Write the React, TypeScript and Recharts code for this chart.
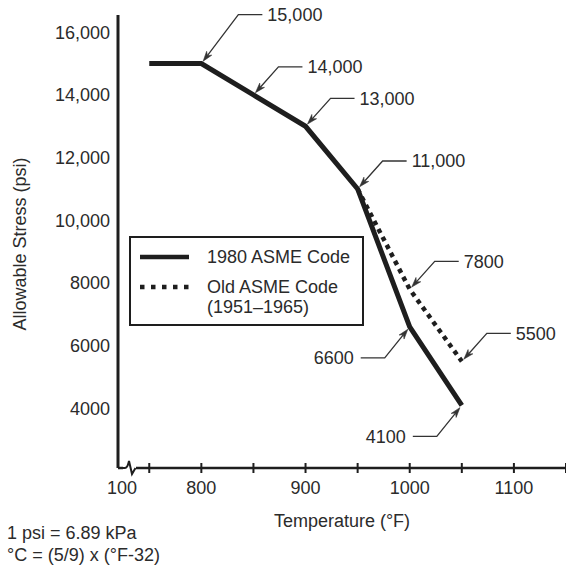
import { LineChart, Line, XAxis, YAxis, Legend, Label } from "recharts";

const FONT = '"Liberation Sans", Arial, Helvetica, sans-serif';
const INK = "#1e1e1e";
const TEXT = "#2b2b2b";

/** Temperatures (°F) where allowable stress is tabulated. */
const temps = [750, 800, 850, 900, 950, 1000, 1050];
/** 1980 ASME code allowable stress (psi). */
const stress1980 = [15000, 15000, 14000, 13000, 11000, 6600, 4100];
/** Old ASME code (1951–1965) allowable stress (psi); only drawn from 950 °F up. */
const stressOld = [null, null, null, null, 11000, 7800, 5500];

const seriesNames = ["1980 ASME Code", "Old ASME Code", "(1951–1965)"];
const xTicks = [720, 750, 800, 850, 900, 950, 1000, 1050, 1100, 1150];
const yTicks = [4000, 6000, 8000, 10000, 12000, 14000, 16000];
const breakLabel = "100";
const footnotes = ["1 psi = 6.89 kPa", "°C = (5/9) x (°F-32)"];

/** Where each point's callout sits relative to the point. */
type CalloutKind = "none" | "upRight" | "upRightLong" | "downLeft";
const callouts1980: CalloutKind[] = ["none", "upRightLong", "upRight", "upRight", "upRight", "downLeft", "downLeft"];
const calloutsOld: CalloutKind[] = ["none", "none", "none", "none", "none", "upRight", "upRight"];

const CALLOUT_GEOMETRY = {
  upRight: { dx: 25, dy: -28 },
  upRightLong: { dx: 37, dy: -49 },
  downLeft: { dx: -25, dy: 31 },
} as const;

const data = temps.map((t, i) => ({
  temp: t,
  code1980: stress1980[i],
  codeOld: stressOld[i],
}));

function formatStress(v: number) {
  return v >= 10000 ? v.toLocaleString("en-US") : String(v);
}

/** Arrow from a point to a bent leader line with the point's value. */
function Callout({ cx, cy, value, kind }: { cx: number; cy: number; value: number; kind: CalloutKind }) {
  if (kind === "none") return null;
  const g = CALLOUT_GEOMETRY[kind];
  const len = Math.hypot(g.dx, g.dy);
  const ux = g.dx / len;
  const uy = g.dy / len;
  const tipX = cx + ux * 3;
  const tipY = cy + uy * 3;
  const cornerX = cx + g.dx;
  const cornerY = cy + g.dy;
  const dir = g.dx > 0 ? 1 : -1;
  const leaderEnd = cornerX + dir * 24;
  const textX = leaderEnd + dir * (dir > 0 ? 5 : 7);

  const headLen = 10;
  const headHalf = 3.2;
  const bx = tipX + ux * headLen;
  const by = tipY + uy * headLen;
  const nx = tipX + ux * headLen * 0.7;
  const ny = tipY + uy * headLen * 0.7;
  const px = -uy;
  const py = ux;
  const head = `M${tipX},${tipY} L${bx + px * headHalf},${by + py * headHalf} L${nx},${ny} L${bx - px * headHalf},${by - py * headHalf} Z`;

  return (
    <g>
      <polyline
        points={`${nx},${ny} ${cornerX},${cornerY} ${leaderEnd},${cornerY}`}
        fill="none"
        stroke="#333"
        strokeWidth={1.3}
      />
      <path d={head} fill="#333" stroke="#333" strokeWidth={0.6} strokeLinejoin="miter" />
      <text
        x={textX}
        y={cornerY + 6.5}
        textAnchor={dir > 0 ? "start" : "end"}
        fontSize={18}
        fontFamily={FONT}
        fill={TEXT}
      >
        {formatStress(value)}
      </text>
    </g>
  );
}

function makeDot(kinds: CalloutKind[]) {
  return (props: any) => {
    const { cx, cy, value, index } = props;
    if (cx == null || cy == null || value == null) return <g key={`d-${index}`} />;
    return (
      <g key={`d-${index}`}>
        <Callout cx={cx} cy={cy} value={value} kind={kinds[index]} />
      </g>
    );
  };
}

/** X tick: cross mark, hundreds labelled, axis break at the origin. */
function XTick(props: any) {
  const { x, y, payload } = props;
  const v = payload.value as number;
  if (v === xTicks[0]) {
    return (
      <g>
        <rect x={x + 5} y={y - 2} width={13} height={4} fill="#fff" />
        <path
          d={`M${x + 4},${y} L${x + 7},${y} Q${x + 9.5},${y} ${x + 11},${y - 7} L${x + 14},${y + 6} L${x + 17.5},${y}`}
          fill="none"
          stroke={INK}
          strokeWidth={2}
          strokeLinejoin="miter"
        />
        <text x={x + 4} y={y + 26} textAnchor="middle" fontSize={18} fontFamily={FONT} fill={TEXT}>
          {breakLabel}
        </text>
      </g>
    );
  }
  return (
    <g>
      <line x1={x} x2={x} y1={y - 5} y2={y + 5} stroke={INK} strokeWidth={2} />
      {v % 100 === 0 && (
        <text x={x} y={y + 26} textAnchor="middle" fontSize={18} fontFamily={FONT} fill={TEXT}>
          {v}
        </text>
      )}
    </g>
  );
}

function XTitle(props: any) {
  const vb = props.viewBox;
  return (
    <text x={vb.x + vb.width / 2} y={vb.y + 59} textAnchor="middle" fontSize={18} fontFamily={FONT} fill={TEXT}>
      Temperature (°F)
    </text>
  );
}

function YTitle(props: any) {
  const vb = props.viewBox;
  const cy = vb.y + vb.height / 2 + 2.5;
  return (
    <text
      x={26}
      y={cy}
      transform={`rotate(-90, 26, ${cy})`}
      textAnchor="middle"
      fontSize={18}
      fontFamily={FONT}
      fill={TEXT}
    >
      Allowable Stress (psi)
    </text>
  );
}

function LegendBox() {
  return (
    <div
      style={{
        position: "relative",
        boxSizing: "border-box",
        width: 235,
        height: 90,
        border: `2px solid ${INK}`,
        background: "#fff",
        fontFamily: FONT,
        fontSize: 18,
        color: TEXT,
      }}
    >
      <svg width={231} height={86} style={{ position: "absolute", left: 0, top: 0 }}>
        <line x1={9} x2={58} y1={19} y2={19} stroke={INK} strokeWidth={4.5} />
        <line x1={9} x2={58} y1={49} y2={49} stroke={INK} strokeWidth={4.5} strokeDasharray="4.5 6.5" />
      </svg>
      <div style={{ position: "absolute", left: 76, top: 9, lineHeight: "20px", whiteSpace: "nowrap" }}>
        {seriesNames[0]}
      </div>
      <div style={{ position: "absolute", left: 76, top: 39, lineHeight: "20px", whiteSpace: "nowrap" }}>
        {seriesNames[1]}
        <br />
        {seriesNames[2]}
      </div>
    </div>
  );
}

export default function App() {
  return (
    <div style={{ position: "absolute", left: 0, top: 0, width: 566, height: 568, background: "#fff" }}>
      <LineChart
        width={566}
        height={568}
        data={data}
        margin={{ top: 15, right: 0, bottom: 40, left: 0 }}
        style={{ fontFamily: FONT }}
      >
        <XAxis
          dataKey="temp"
          type="number"
          domain={[720, 1150]}
          ticks={xTicks}
          interval={0}
          height={60}
          tickSize={0}
          tickMargin={0}
          tickLine={false}
          tick={<XTick />}
          axisLine={{ stroke: INK, strokeWidth: 2.5 }}
        >
          <Label content={XTitle} />
        </XAxis>
        <YAxis
          type="number"
          domain={[2100, 16550]}
          ticks={yTicks}
          interval={0}
          width={118}
          tickLine={false}
          tickFormatter={formatStress}
          tick={{ fill: TEXT, fontSize: 18, fontFamily: FONT }}
          axisLine={{ stroke: INK, strokeWidth: 3 }}
        >
          <Label content={YTitle} />
        </YAxis>
        <Legend
          layout="vertical"
          align="center"
          verticalAlign="middle"
          wrapperStyle={{ left: 129, top: 236, width: 235, height: 90 }}
          content={() => <LegendBox />}
        />
        <Line
          type="linear"
          dataKey="code1980"
          name="1980 ASME Code"
          stroke={INK}
          strokeWidth={5}
          strokeLinejoin="miter"
          dot={makeDot(callouts1980)}
          activeDot={false}
          isAnimationActive={false}
        />
        <Line
          type="linear"
          dataKey="codeOld"
          name="Old ASME Code (1951–1965)"
          stroke={INK}
          strokeWidth={4.5}
          strokeDasharray="4.5 4.5"
          dot={makeDot(calloutsOld)}
          activeDot={false}
          isAnimationActive={false}
        />
      </LineChart>
      {footnotes.map((t, i) => (
        <div
          key={t}
          style={{
            position: "absolute",
            left: 7,
            top: 522 + i * 22,
            fontFamily: FONT,
            fontSize: 18,
            lineHeight: "22px",
            color: TEXT,
            whiteSpace: "nowrap",
          }}
        >
          {t}
        </div>
      ))}
    </div>
  );
}
